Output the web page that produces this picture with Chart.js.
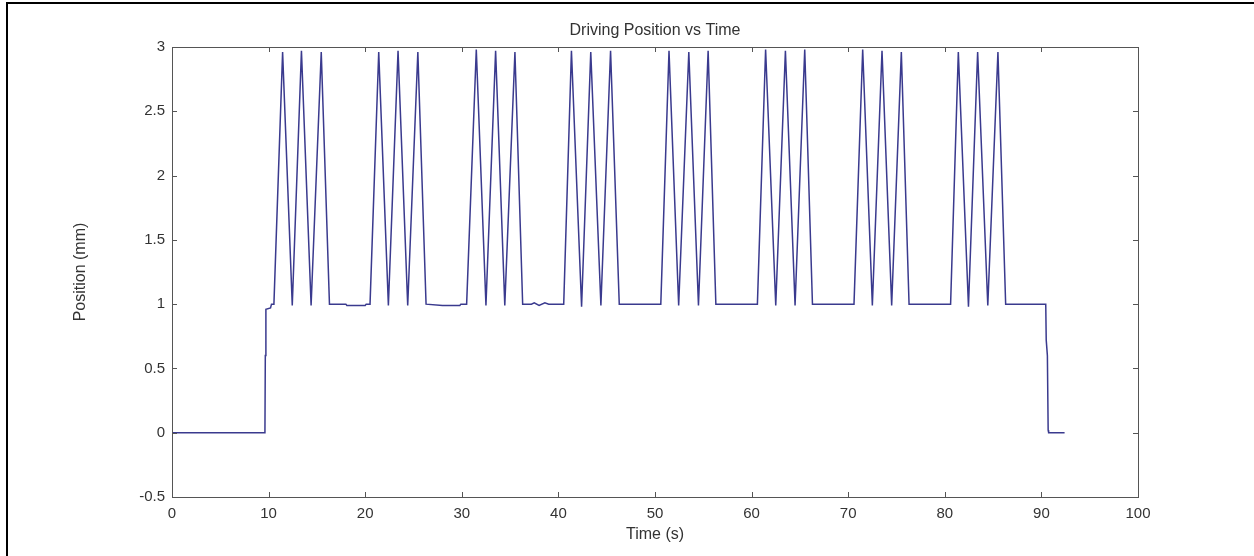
<!DOCTYPE html>
<html>
<head>
<meta charset="utf-8">
<script src="https://cdn.jsdelivr.net/npm/chart.js@4.4.1/dist/chart.umd.min.js"></script>
<style>
  html, body { margin: 0; padding: 0; background: #fff; }
  #wrap { position: relative; width: 1254px; height: 556px; }
  #frame { position: absolute; left: 6px; top: 2px; right: -4px; bottom: -4px;
           border-top: 2px solid #000; border-left: 2px solid #000; pointer-events: none; }
</style>
</head>
<body>
<div id="wrap">
  <canvas id="myChart" width="1254" height="556"></canvas>
  <div id="frame"></div>
</div>
<script>
// Driving position trace (time in s, position in mm)
var timeS = [
  0, 9.62, 9.66, 9.72, 10.2, 10.3,
  10.55, 11.45, 12.45, 13.4, 14.4, 15.45, 16.3,
  18.0, 18.1, 20.0, 20.1,
  20.5, 21.4, 22.4, 23.4, 24.4, 25.45, 26.3,
  28.0, 29.8, 29.9,
  30.5, 31.5, 32.5, 33.5, 34.45, 35.5, 36.3,
  37.2, 37.5, 38.0, 38.6, 39.0,
  40.55, 41.35, 42.4, 43.35, 44.4, 45.4, 46.3,
  50.6, 51.45, 52.45, 53.5, 54.5, 55.5, 56.3,
  60.6, 61.45, 62.5, 63.5, 64.5, 65.5, 66.3,
  70.6, 71.5, 72.5, 73.5, 74.5, 75.5, 76.3,
  80.6, 81.4, 82.45, 83.4, 84.45, 85.5, 86.3,
  90.45, 90.5, 90.62, 90.7, 90.75, 92.4
];
var positionMm = [
  0, 0, 0.6, 0.96, 0.97, 1.0,
  1.0, 2.96, 0.99, 2.97, 0.99, 2.96, 1.0,
  1.0, 0.99, 0.99, 1.0,
  1.0, 2.96, 0.99, 2.97, 0.99, 2.96, 1.0,
  0.99, 0.99, 1.0,
  1.0, 2.98, 0.99, 2.97, 0.99, 2.96, 1.0,
  1.0, 1.01, 0.99, 1.01, 1.0,
  1.0, 2.97, 0.98, 2.96, 0.99, 2.97, 1.0,
  1.0, 2.97, 0.99, 2.96, 0.99, 2.97, 1.0,
  1.0, 2.98, 0.99, 2.97, 0.99, 2.98, 1.0,
  1.0, 2.98, 0.99, 2.97, 0.99, 2.96, 1.0,
  1.0, 2.96, 0.98, 2.96, 0.99, 2.96, 1.0,
  1.0, 0.72, 0.6, 0.02, 0, 0
];

var xTicks = [0, 10, 20, 30, 40, 50, 60, 70, 80, 90, 100];
var yTicks = [-0.5, 0, 0.5, 1, 1.5, 2, 2.5, 3];

var points = timeS.map(function (t, i) { return { x: t, y: positionMm[i] } });

var axisColor = '#555';
var textColor = '#333';
var fontFamily = '"Liberation Sans", Arial, sans-serif';

// matlab style box with inward ticks on all four sides
var boxPlugin = {
  id: 'matlabBox',
  afterDatasetsDraw: function (chart) {
    var ctx = chart.ctx, a = chart.chartArea;
    var sx = chart.scales.x, sy = chart.scales.y;
    var len = 5;
    ctx.save();
    ctx.strokeStyle = axisColor;
    ctx.lineWidth = 1;
    ctx.beginPath();
    xTicks.forEach(function (v) {
      var px = Math.round(sx.getPixelForValue(v)) + 0.5;
      ctx.moveTo(px, a.bottom); ctx.lineTo(px, a.bottom - len);
      ctx.moveTo(px, a.top); ctx.lineTo(px, a.top + len);
    });
    yTicks.forEach(function (v) {
      var py = Math.round(sy.getPixelForValue(v)) + 0.5;
      ctx.moveTo(a.left, py); ctx.lineTo(a.left + len, py);
      ctx.moveTo(a.right, py); ctx.lineTo(a.right - len, py);
    });
    ctx.stroke();
    ctx.strokeRect(Math.round(a.left) + 0.5, Math.round(a.top) + 0.5,
                   Math.round(a.right - a.left), Math.round(a.bottom - a.top));
    ctx.restore();
  }
};

new Chart(document.getElementById('myChart').getContext('2d'), {
  type: 'scatter',
  data: {
    datasets: [{
      label: 'Position',
      data: points,
      showLine: true,
      borderColor: '#3a3a8e',
      borderWidth: 1.5,
      pointRadius: 0,
      tension: 0
    }]
  },
  options: {
    responsive: false,
    animation: false,
    layout: { padding: { left: 0, right: 116, top: 0, bottom: 0 } },
    plugins: {
      legend: { display: false },
      tooltip: { enabled: false },
      title: {
        display: true,
        fullSize: false,
        text: 'Driving Position vs Time',
        color: textColor,
        font: { family: fontFamily, size: 16, weight: 'normal' },
        padding: { top: 21, bottom: 6.8 }
      }
    },
    scales: {
      x: {
        type: 'linear',
        min: 0, max: 100,
        afterBuildTicks: function (s) { s.ticks = xTicks.map(function (v) { return { value: v } }) },
        afterFit: function (s) { s.height = 59 },
        grid: { display: false, drawTicks: false },
        border: { display: false },
        ticks: { color: textColor, padding: 8, maxRotation: 0,
                 callback: function (v) { return String(v) },
                 font: { family: fontFamily, size: 15 } },
        title: { display: true, text: 'Time (s)', color: textColor,
                 font: { family: fontFamily, size: 16 }, padding: { bottom: 12 } }
      },
      y: {
        type: 'linear',
        min: -0.5, max: 3,
        afterBuildTicks: function (s) { s.ticks = yTicks.map(function (v) { return { value: v } }) },
        afterFit: function (s) { s.width = 172 },
        grid: { display: false, drawTicks: false },
        border: { display: false },
        ticks: { color: textColor, padding: 7,
                 callback: function (v) { return String(v) },
                 font: { family: fontFamily, size: 15 } },
        title: { display: true, text: 'Position (mm)', color: textColor,
                 font: { family: fontFamily, size: 16 }, padding: { top: 71 } }
      }
    }
  },
  plugins: [boxPlugin]
});
</script>
</body>
</html>
